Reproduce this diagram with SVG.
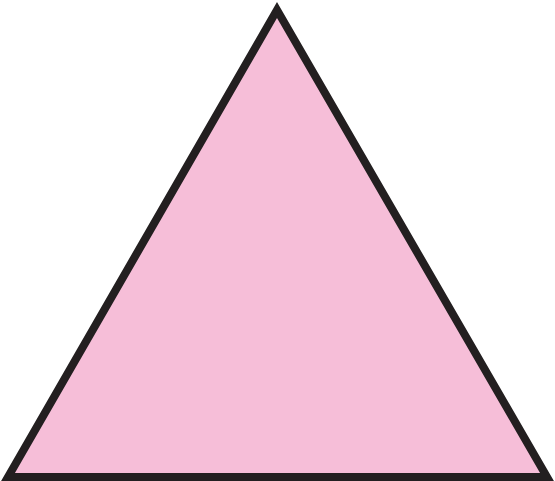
<svg xmlns="http://www.w3.org/2000/svg" width="555" height="481" viewBox="0 0 555 481">
<style>
.tri{fill:#F6BED8;stroke:#231F20;stroke-width:8;stroke-linejoin:miter;stroke-miterlimit:10}
</style>
<rect width="555" height="481" fill="#ffffff"/>
<g id="triangle">
<polygon class="tri" points="277,10 8,477 547,477"/>
</g>
</svg>
